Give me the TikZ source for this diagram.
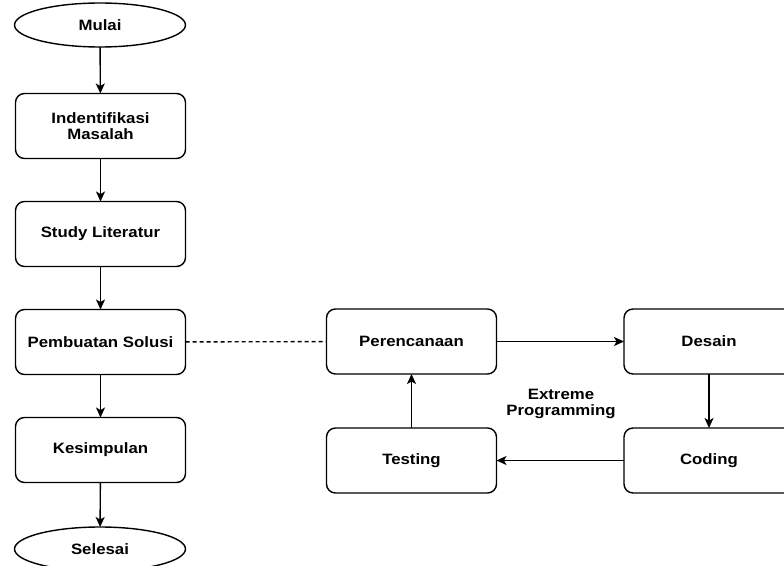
\documentclass[tikz,border=0pt]{standalone}
\usepackage{fontspec}
\setmainfont{Liberation Sans}[FakeStretch=1.12]
\usetikzlibrary{arrows.meta,shapes.geometric}
\begin{document}
\begin{tikzpicture}[x=1pt,y=-1pt,
  lbl/.style={font=\bfseries\fontsize{15}{16.5}\selectfont, align=center},
  box/.style={lbl, draw, rounded corners=9pt, minimum width=170pt, minimum height=65pt, inner sep=0pt, outer sep=0pt, line width=1.4pt},
  term/.style={lbl, draw, ellipse, minimum width=171pt, minimum height=44pt, inner sep=0pt, outer sep=0pt, line width=1.4pt},
  arr/.style={-{Stealth[length=10pt,width=9pt,inset=2.5pt]}, line width=1.4pt}]
\fill[white] (0,0) rectangle (784,565);
\useasboundingbox (0,0) rectangle (784,565);
\node[term] (mulai) at (100,25) {Mulai};
\node[box] (ident) at (100.5,126) {Indentifikasi\\Masalah};
\node[box] (study) at (100.5,234) {Study Literatur};
\node[box] (solusi) at (100.5,342) {Pembuatan Solusi};
\node[box] (kes) at (100.5,450) {Kesimpulan};
\node[term] (selesai) at (100,549) {Selesai};
\node[box] (ren) at (411.5,341.5) {Perencanaan};
\node[box] (des) at (709,341.5) {Desain};
\node[box] (cod) at (709,460.5) {Coding};
\node[box] (tes) at (411.5,460.5) {Testing};
\node[lbl] (xp) at (561,404) {Extreme\\Programming};
\draw[arr] (mulai) -- (ident);
\draw[arr] (ident) -- (study);
\draw[arr] (study) -- (solusi);
\draw[arr] (solusi) -- (kes);
\draw[arr] (kes) -- (selesai);
\draw[line width=1.4pt, dash pattern=on 4pt off 3pt] (solusi) -- (ren);
\draw[arr] (ren) -- (des);
\draw[arr] (des) -- (cod);
\draw[arr] (cod) -- (tes);
\draw[arr] (tes) -- (ren);
\end{tikzpicture}
\end{document}
